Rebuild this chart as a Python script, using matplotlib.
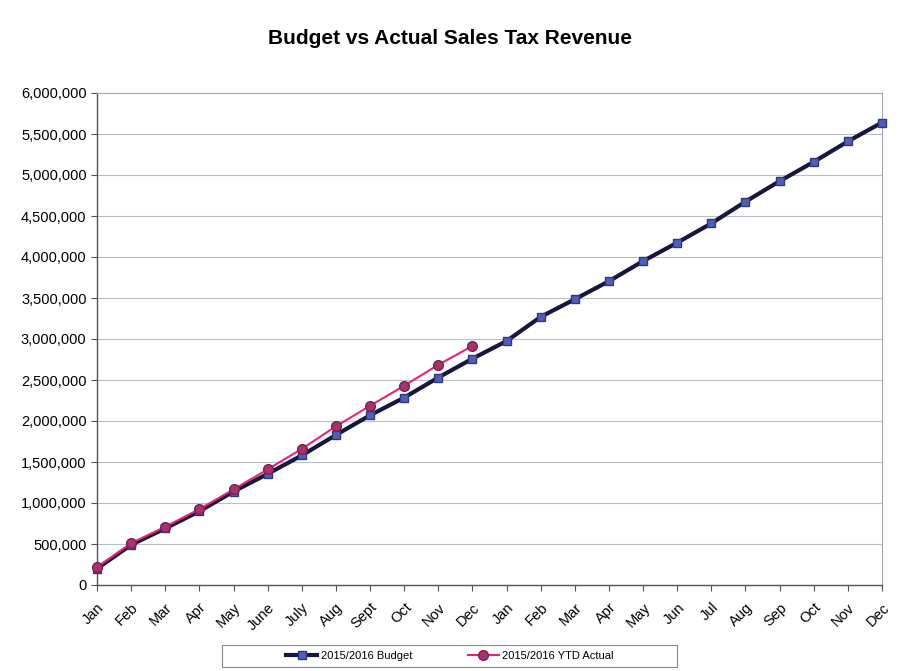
import matplotlib
matplotlib.use("Agg")
import matplotlib.pyplot as plt
from matplotlib.patches import Rectangle
from matplotlib.ticker import FuncFormatter

plt.rcParams['font.family'] = ['Liberation Sans', 'DejaVu Sans']

# month labels across the two fiscal years
months = ['Jan', 'Feb', 'Mar', 'Apr', 'May', 'June', 'July', 'Aug', 'Sept', 'Oct', 'Nov', 'Dec',
          'Jan', 'Feb', 'Mar', 'Apr', 'May', 'Jun', 'Jul', 'Aug', 'Sep', 'Oct', 'Nov', 'Dec']

budget = [200000, 490000, 690000, 900000, 1140000, 1355000, 1580000, 1830000, 2070000, 2285000,
          2530000, 2760000, 2975000, 3270000, 3485000, 3705000, 3950000, 4175000, 4410000,
          4675000, 4925000, 5160000, 5410000, 5640000]

actual = [215000, 510000, 710000, 925000, 1165000, 1410000, 1660000, 1935000, 2185000, 2430000,
          2685000, 2915000]

fig = plt.figure(figsize=(8.99, 6.71), dpi=100)
ax = fig.add_axes([97 / 899, 1 - 585 / 671, (882 - 97) / 899, (585 - 93) / 671])

x = list(range(len(months)))
ax.plot(x, budget, color='#16163f', lw=3, marker='s', markersize=6, clip_on=False,
        markerfacecolor='#4f5fb5', markeredgecolor='#2e3a80', label='2015/2016 Budget', zorder=3)
ax.plot(x[:len(actual)], actual, color='#e8237a', lw=1.5, marker='o', markersize=7, clip_on=False,
        markerfacecolor='#a8326a', markeredgecolor='#7a2050', label='2015/2016 YTD Actual', zorder=4)

ax.set_xlim(0, len(months) - 1)
ax.set_ylim(0, 6000000)
ax.set_yticks(range(0, 6000001, 500000))
ax.yaxis.set_major_formatter(FuncFormatter(lambda v, p: f'{int(v):,}'))
ax.set_xticks(x)
ax.set_xticklabels(months, rotation=45, ha='right', rotation_mode='anchor')
ax.tick_params(axis='both', labelsize=10.5, color='#555555', length=4)
ax.tick_params(axis='x', direction='out', pad=7)

ax.grid(axis='y', color='#b8c0c8', lw=0.8)
ax.set_axisbelow(True)
for s in ['top', 'right']:
    ax.spines[s].set_color('#a0a8b0')
    ax.spines[s].set_linewidth(0.8)
for s in ['left', 'bottom']:
    ax.spines[s].set_color('#555555')
    ax.spines[s].set_linewidth(1)

fig.suptitle('Budget vs Actual Sales Tax Revenue', x=0.5, y=1 - 38 / 671, va='center',
             fontsize=15, fontweight='bold')

# legend box below the plot
fig.patches.append(Rectangle((222 / 899, 1 - 667 / 671), 455 / 899, 22 / 671,
                             transform=fig.transFigure, fill=False, edgecolor='#888888', lw=0.8))
fig.legend(loc='center', bbox_to_anchor=(450 / 899, 1 - 656 / 671), ncol=2,
           fontsize=8, frameon=False, columnspacing=5, handlelength=2.8, handletextpad=0.3)

fig.savefig('out.png', dpi=100)
